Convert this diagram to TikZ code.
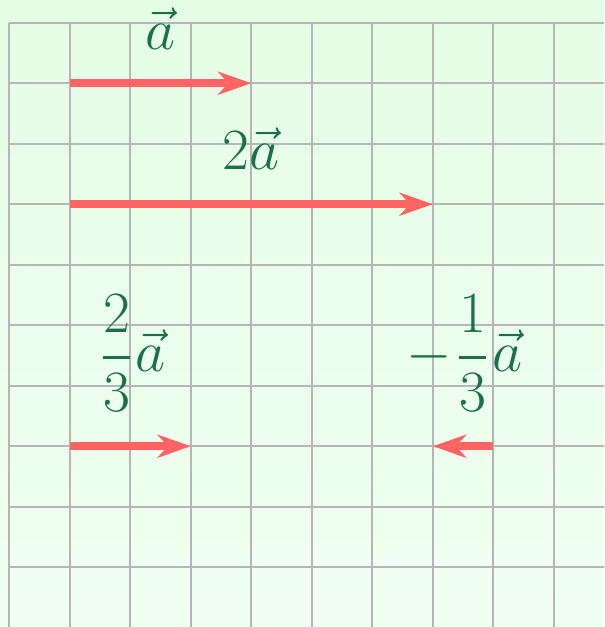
\RequirePackage{fix-cm}
\documentclass[tikz,border=0pt]{standalone}
\usepackage{amsmath}
\usepackage{exscale}
\usetikzlibrary{arrows.meta}
\definecolor{bgtop}{RGB}{229,253,229}
\definecolor{bgbot}{RGB}{240,255,242}
\definecolor{gridc}{RGB}{182,182,182}
\definecolor{vecc}{RGB}{255,100,100}
\definecolor{labc}{RGB}{26,112,72}
\newcommand{\thickfrac}[2]{\genfrac{}{}{1.5pt}{0}{#1}{#2}}
\tikzset{
  vecarrow/.style={draw=vecc, line width=3.5pt, -{Stealth[length=0.55cm,width=0.38cm,inset=0.17cm]}},
  veclabel/.style={text=labc, anchor=base, inner sep=0pt, font=\fontsize{27.5}{33}\selectfont},
  gridline/.style={draw=gridc, line width=0.95pt}
}
\begin{document}
\begin{tikzpicture}
\path[use as bounding box] (-0.154,-9.988) rectangle (9.83,0.375);
\clip (-0.154,-9.988) rectangle (9.83,0.375);
\shade[top color=bgtop, bottom color=bgbot] (-0.154,-9.988) rectangle (9.83,0.375);
\draw[gridline, step=1] (0,-10.5) grid (10.5,0);
% coordinates
\coordinate (a0) at (1,-1);  \coordinate (a1) at (4,-1);
\coordinate (b0) at (1,-3);  \coordinate (b1) at (7,-3);
\coordinate (c0) at (1,-7);  \coordinate (c1) at (3,-7);
\coordinate (d0) at (8,-7);  \coordinate (d1) at (7,-7);
\draw[vecarrow] (a0) -- (a1);
\draw[vecarrow] (b0) -- (b1);
\draw[vecarrow] (c0) -- (c1);
\draw[vecarrow] (d0) -- (d1);
\node[veclabel] (la) at (2.5,-0.45) {$\vec{a}$};
\node[veclabel] (lb) at (4.0,-2.43) {$2\vec{a}$};
\node[veclabel] (lc) at (2.05,-5.77) {$\thickfrac{2}{3}\mkern1mu\vec{a}$};
\node[veclabel] (ld) at (7.52,-5.77) {$-\mkern1.5mu\thickfrac{1}{3}\mkern1mu\vec{a}$};
\end{tikzpicture}
\end{document}
